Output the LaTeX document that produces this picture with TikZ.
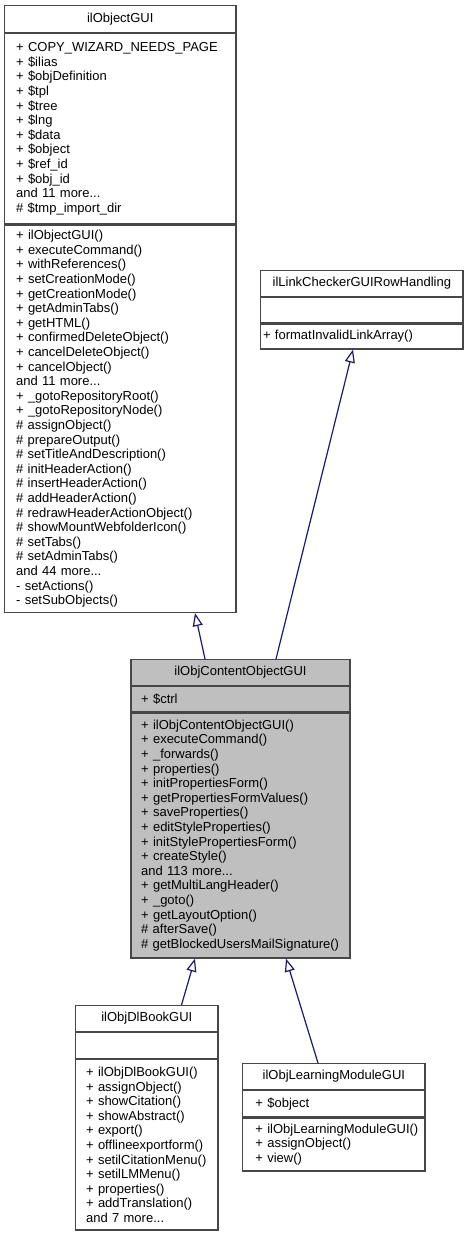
\documentclass[tikz,border=0pt]{standalone}
\usepackage{fontspec}
\setmainfont{Liberation Sans}
\usetikzlibrary{positioning,arrows.meta}
\definecolor{edgeblue}{HTML}{191970}
\definecolor{focusgray}{HTML}{BFBFBF}
\tikzset{
  classpart/.style={draw=black!72, line width=1.2pt, fill=white, inner sep=0pt,
    anchor=north, font=\fontsize{13}{14.6}\selectfont},
  classtitle/.style={classpart, align=center, minimum width=#1},
  classlist/.style 2 args={classpart, align=left, minimum width=#1, text width=#1,
    execute at begin node={\leftskip=#2}},
  inherit/.style={draw=edgeblue, line width=1.2pt,
    -{Triangle[open, length=13pt, width=10pt]}},
}
\begin{document}
\begin{tikzpicture}[x=1pt, y=-1pt]
  \useasboundingbox (0,0) rectangle (469,1233);
  \node[classtitle=231.5pt, minimum height=27pt] (objgui) at (120.25,5) {ilObjectGUI};
  \node[classlist={231.5pt}{11.6pt}, minimum height=190pt, below=0pt of objgui] (objguiattr)
    {+ COPY\_WIZARD\_NEEDS\_PAGE\\+ \$ilias\\+ \$objDefinition\\+ \$tpl\\+ \$tree\\+ \$lng\\+ \$data\\+ \$object\\+ \$ref\_id\\+ \$obj\_id\\and 11 more...\\\# \$tmp\_import\_dir};
  \node[classlist={231.5pt}{11.6pt}, minimum height=387.5pt, below=0pt of objguiattr] (objguimeth)
    {+ ilObjectGUI()\\+ executeCommand()\\+ withReferences()\\+ setCreationMode()\\+ getCreationMode()\\+ getAdminTabs()\\+ getHTML()\\+ confirmedDeleteObject()\\+ cancelDeleteObject()\\+ cancelObject()\\and 11 more...\\+ \_gotoRepositoryRoot()\\+ \_gotoRepositoryNode()\\\# assignObject()\\\# prepareOutput()\\\# setTitleAndDescription()\\\# initHeaderAction()\\\# insertHeaderAction()\\\# addHeaderAction()\\\# redrawHeaderActionObject()\\\# showMountWebfolderIcon()\\\# setTabs()\\\# setAdminTabs()\\and 44 more...\\- setActions()\\- setSubObjects()};

  \node[classtitle=202.3pt, minimum height=26pt] (linkchk) at (361.85,270) {ilLinkCheckerGUIRowHandling};
  \node[classlist={202.3pt}{2.3pt}, minimum height=25pt, below=0pt of linkchk] (linkchkattr) {};
  \node[classlist={202.3pt}{2.3pt}, minimum height=25pt, below=0pt of linkchkattr] (linkchkmeth)
    {+ formatInvalidLinkArray()};

  \node[classtitle=219pt, fill=focusgray, minimum height=25.5pt] (cobj) at (240.5,659) {ilObjContentObjectGUI};
  \node[classlist={219pt}{10.1pt}, fill=focusgray, minimum height=25.5pt, below=0pt of cobj] (cobjattr) {+ \$ctrl};
  \node[classlist={219pt}{10.1pt}, fill=focusgray, minimum height=245pt, below=0pt of cobjattr] (cobjmeth)
    {+ ilObjContentObjectGUI()\\+ executeCommand()\\+ \_forwards()\\+ properties()\\+ initPropertiesForm()\\+ getPropertiesFormValues()\\+ saveProperties()\\+ editStyleProperties()\\+ initStylePropertiesForm()\\+ createStyle()\\and 113 more...\\+ getMultiLangHeader()\\+ \_goto()\\+ getLayoutOption()\\\# afterSave()\\\# getBlockedUsersMailSignature()};

  \node[classtitle=142.3pt, minimum height=25.7pt] (dlbook) at (146.85,1005) {ilObjDlBookGUI};
  \node[classlist={142.3pt}{10.4pt}, minimum height=26pt, below=0pt of dlbook] (dlbookattr) {};
  \node[classlist={142.3pt}{10.4pt}, minimum height=170.3pt, below=0pt of dlbookattr] (dlbookmeth)
    {+ ilObjDlBookGUI()\\+ assignObject()\\+ showCitation()\\+ showAbstract()\\+ export()\\+ offlineexportform()\\+ setilCitationMenu()\\+ setilLMMenu()\\+ properties()\\+ addTranslation()\\and 7 more...};

  \node[classtitle=182.3pt, minimum height=26pt] (lmod) at (333.85,1063) {ilObjLearningModuleGUI};
  \node[classlist={182.3pt}{12.7pt}, minimum height=26pt, below=0pt of lmod] (lmodattr) {+ \$object};
  \node[classlist={182.3pt}{12.7pt}, minimum height=53pt, below=0pt of lmodattr] (lmodmeth)
    {+ ilObjLearningModuleGUI()\\+ assignObject()\\+ view()};

  \begin{scope}[inherit]
    \draw ([xshift=-35.5pt]cobj.north) to ([xshift=74.75pt]objguimeth.south);
    \draw ([xshift=35.5pt]cobj.north) to ([xshift=-8.85pt]linkchkmeth.south);
    \draw ([xshift=34.65pt]dlbook.north) to ([xshift=-45.5pt]cobjmeth.south);
    \draw ([xshift=-15.85pt]lmod.north) to ([xshift=45.5pt]cobjmeth.south);
  \end{scope}
\end{tikzpicture}
\end{document}
